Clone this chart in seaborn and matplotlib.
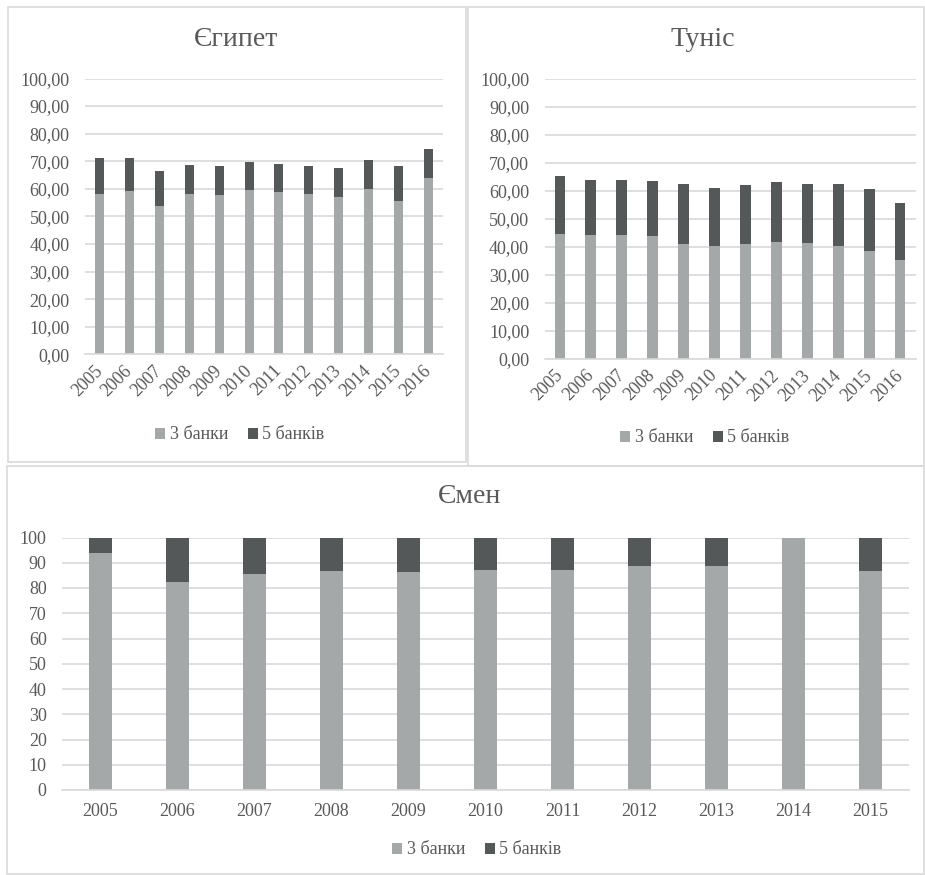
import matplotlib
matplotlib.use("Agg")
import matplotlib.pyplot as plt
from matplotlib.patches import Rectangle, Patch
import seaborn as sns
import pandas as pd

# Concentration of the banking sector: share of the 3 and 5 largest banks, %
years_12 = ["2005", "2006", "2007", "2008", "2009", "2010",
            "2011", "2012", "2013", "2014", "2015", "2016"]
years_11 = years_12[:-1]

egypt_3 = [58.2, 59.2, 53.9, 58.2, 57.7, 59.6, 59.0, 58.2, 57.1, 60.0, 55.7, 63.9]
egypt_5 = [71.1, 71.1, 66.3, 68.7, 68.2, 69.6, 69.0, 68.2, 67.7, 70.6, 68.2, 74.3]

tunisia_3 = [44.7, 44.2, 44.2, 43.8, 40.9, 40.3, 40.9, 41.9, 41.4, 40.3, 38.6, 35.2]
tunisia_5 = [65.4, 63.9, 63.9, 63.6, 62.5, 61.1, 62.2, 63.1, 62.5, 62.5, 60.6, 55.5]

yemen_3 = [93.7, 82.2, 85.4, 86.9, 86.4, 87.3, 87.3, 88.9, 88.9, 100.0, 86.8]
yemen_5 = [100.0, 100.0, 100.0, 100.0, 100.0, 100.0, 100.0, 100.0, 100.0, 100.0, 100.0]

series_labels = ["3 банки", "5 банків"]

LIGHT = "#a5a8a8"
DARK = "#545858"
GRID = "#d9d9d9"
TEXT = "#595959"

sns.set_theme(style="white")
plt.rcParams["font.family"] = ["Liberation Serif", "DejaVu Serif"]

W, H = 925, 875
fig = plt.figure(figsize=(W / 100, H / 100), dpi=100)


def px_axes(x0, x1, y_top, y_bot):
    return fig.add_axes([x0 / W, 1 - y_bot / H, (x1 - x0) / W, (y_bot - y_top) / H])


def px_box(x0, y0, x1, y1):
    fig.add_artist(Rectangle((x0 / W, 1 - y1 / H), (x1 - x0) / W, (y1 - y0) / H,
                             transform=fig.transFigure, fill=False,
                             edgecolor=GRID, linewidth=1.2))


def panel(ax, years, v3, v5, width, fmt, rot):
    df5 = pd.DataFrame({"year": years, "value": v5})
    df3 = pd.DataFrame({"year": years, "value": v3})
    # the 5-bank column sits behind, the 3-bank column is drawn over it
    sns.barplot(data=df5, x="year", y="value", color=DARK, width=width,
                saturation=1, ax=ax, linewidth=0)
    sns.barplot(data=df3, x="year", y="value", color=LIGHT, width=width,
                saturation=1, ax=ax, linewidth=0)
    ax.set_ylim(0, 100)
    ax.set_xlim(-0.5, len(years) - 0.5)
    ax.set_yticks(range(0, 101, 10))
    ax.set_yticklabels([fmt(v) for v in range(0, 101, 10)])
    ax.set_xlabel("")
    ax.set_ylabel("")
    ax.grid(axis="y", color=GRID, linewidth=1.2)
    ax.set_axisbelow(True)
    for s in ["top", "right", "left"]:
        ax.spines[s].set_visible(False)
    ax.spines["bottom"].set_color(GRID)
    ax.spines["bottom"].set_linewidth(1.2)
    ax.tick_params(axis="both", length=0, colors=TEXT, labelsize=13)
    ax.tick_params(axis="y", pad=11)
    if rot:
        ax.tick_params(axis="x", pad=10)
        for lbl in ax.get_xticklabels():
            lbl.set_rotation(45)
            lbl.set_ha("right")
            lbl.set_va("center")
            lbl.set_rotation_mode("anchor")
    else:
        ax.tick_params(axis="x", pad=9)


def legend_at(cx, cy):
    handles = [Patch(facecolor=LIGHT, edgecolor="none"),
               Patch(facecolor=DARK, edgecolor="none")]
    fig.legend(handles, series_labels, loc="center",
               bbox_to_anchor=(cx / W, 1 - cy / H), ncol=2, frameon=False,
               fontsize=13, labelcolor=TEXT, handlelength=0.55,
               handleheight=0.55, handletextpad=0.25, columnspacing=1.1)


comma2 = lambda v: f"{v:.2f}".replace(".", ",")

# panel frames
px_box(8, 7, 466, 462)
px_box(468, 7, 924, 466)
px_box(7, 466, 924, 874)

ax1 = px_axes(85, 443, 78.5, 354.3)
panel(ax1, years_12, egypt_3, egypt_5, 0.3, comma2, True)
fig.text(236 / W, 1 - 40 / H, "Єгипет", ha="center", va="center",
         fontsize=20, color=TEXT)
legend_at(240, 435)

ax2 = px_axes(544.5, 915.5, 78.7, 359)
panel(ax2, years_12, tunisia_3, tunisia_5, 0.35, comma2, True)
fig.text(703 / W, 1 - 40 / H, "Туніс", ha="center", va="center",
         fontsize=20, color=TEXT)
legend_at(705, 438)

ax3 = px_axes(62, 909, 537.5, 790)
panel(ax3, years_11, yemen_3, yemen_5, 0.3, lambda v: f"{v}", False)
fig.text(470 / W, 1 - 497 / H, "Ємен", ha="center", va="center",
         fontsize=20, color=TEXT)
legend_at(477, 850)

fig.savefig("out.png", dpi=100, facecolor="white")
